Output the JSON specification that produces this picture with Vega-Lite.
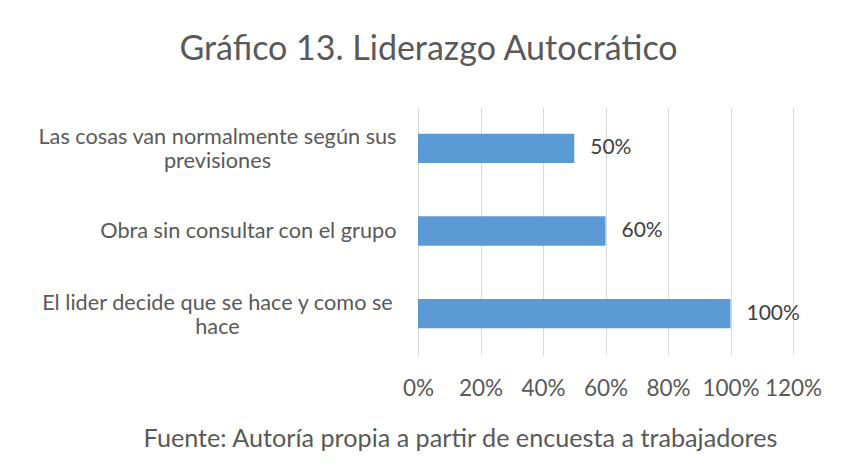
{
  "$schema": "https://vega.github.io/schema/vega-lite/v6.json",
  "autosize": "none",
  "width": 375,
  "height": 248,
  "padding": {"left": 418, "top": 107, "right": 52, "bottom": 112},
  "background": "white",
  "config": {"view": {"stroke": null}},
  "title": {
    "text": "Gráfico 13. Liderazgo Autocrático",
    "font": "Lato",
    "fontSize": 34,
    "fontWeight": "normal",
    "color": "#595959",
    "anchor": "middle",
    "frame": "group",
    "dx": -177,
    "baseline": "alphabetic",
    "offset": 13
  },
  "data": {
    "values": [
      {"item": "Las cosas van normalmente según sus previsiones", "pct": 0.5},
      {"item": "Obra sin consultar con el grupo", "pct": 0.6},
      {"item": "El lider decide que se hace y como se hace", "pct": 1.0}
    ]
  },
  "encoding": {
    "y": {
      "field": "item",
      "type": "nominal",
      "sort": null,
      "scale": {"paddingInner": 0.645, "paddingOuter": 0.3225},
      "axis": {
        "title": null,
        "domain": false,
        "ticks": false,
        "tickSize": 0,
        "grid": false,
        "labelFont": "Lato",
        "labelFontSize": 21.7,
        "labelColor": "#595959",
        "labelLimit": 500,
        "labelLineHeight": 24,
        "labelBaseline": "middle",
        "labelExpr": "datum.value == 'Las cosas van normalmente según sus previsiones' ? ['Las cosas van normalmente según sus', 'previsiones'] : datum.value == 'El lider decide que se hace y como se hace' ? ['El lider decide que se hace y como se', 'hace'] : datum.value",
        "labelAlign": {"condition": {"test": "datum.value == 'Obra sin consultar con el grupo'", "value": "right"}, "value": "center"},
        "labelPadding": {"condition": {"test": "datum.value == 'Obra sin consultar con el grupo'", "value": 22}, "value": 201},
        "labelOffset": {"condition": {"test": "datum.value == 'Obra sin consultar con el grupo'", "value": 0}, "value": -11}
      }
    },
    "x": {
      "field": "pct",
      "type": "quantitative",
      "scale": {"domain": [0, 1.2], "nice": false},
      "axis": {
        "values": [0, 0.2, 0.4, 0.6, 0.8, 1.0, 1.2],
        "format": ".0%",
        "domain": false,
        "ticks": false,
        "tickSize": 0,
        "grid": true,
        "gridColor": "#d9d9d9",
        "gridWidth": 1,
        "labelFont": "Lato",
        "labelFontSize": 22.5,
        "labelColor": "#595959",
        "labelPadding": 22,
        "labelFlush": false,
        "labelOverlap": false,
        "title": "Fuente: Autoría propia a partir de encuesta a trabajadores",
        "titleFont": "Lato",
        "titleFontSize": 25.2,
        "titleFontWeight": "normal",
        "titleColor": "#595959",
        "titleX": 42,
        "titleY": 91,
        "titleAlign": "center",
        "titleBaseline": "alphabetic"
      }
    }
  },
  "layer": [
    {"mark": {"type": "bar", "color": "#5B9BD5"}},
    {
      "mark": {"type": "text", "align": "left", "baseline": "middle", "dx": 16, "font": "Lato", "fontSize": 21, "color": "#404040"},
      "encoding": {"text": {"field": "pct", "type": "quantitative", "format": ".0%"}}
    }
  ]
}
